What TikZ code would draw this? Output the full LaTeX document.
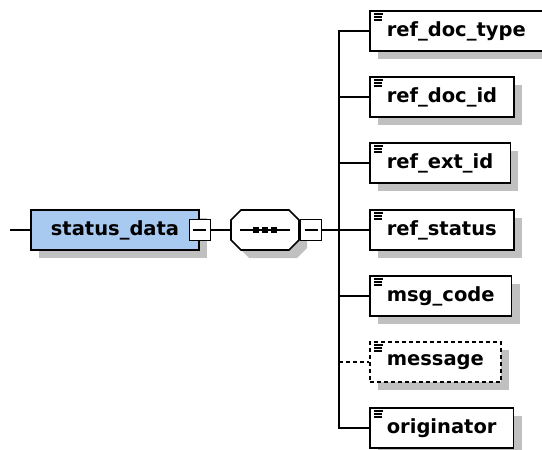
\documentclass[tikz,border=0pt]{standalone}
\usepackage{fontspec}
\setmainfont{DejaVu Sans}
\usetikzlibrary{shadows}
\definecolor{elemblue}{RGB}{168,201,240}
\definecolor{shadowgray}{RGB}{192,192,192}

\begin{document}
\begin{tikzpicture}[x=1bp,y=-1bp,line width=1.6bp,
	font=\fontsize{19.5bp}{22bp}\selectfont\bfseries,
	elem/.style={draw,fill=white,minimum height=40bp,inner xsep=17bp,inner ysep=0pt,
		drop shadow={shadow xshift=8bp,shadow yshift=-8bp,fill=shadowgray,opacity=1}},
	leaf/.style={elem,anchor=west,path picture={
		\draw[solid,line width=1.1bp] ([shift={(4bp,-3bp)}]path picture bounding box.north west) -- ++(9bp,0);
		\draw[solid,line width=1.1bp] ([shift={(4bp,-6bp)}]path picture bounding box.north west) -- ++(8bp,0);
		\draw[solid,line width=1.1bp] ([shift={(4bp,-9bp)}]path picture bounding box.north west) -- ++(8bp,0);}},
	optional/.style={dash pattern=on 4bp off 3bp},
	toggle/.style={draw,fill=white,minimum size=21bp,inner sep=0pt,path picture={
		\draw[line width=1.4bp] ([xshift=4bp]path picture bounding box.west) -- ([xshift=-4bp]path picture bounding box.east);}},
	seqbox/.style={minimum width=68bp,minimum height=40bp,inner sep=0pt}]

	\useasboundingbox (0,0) rectangle (542,450);

	\coordinate (start) at (10,230);
	\node[elem,fill=elemblue,minimum width=168bp,inner xsep=0pt] (statusData) at (115,230) {status\_data};
	\node[toggle] (dataToggle) at (statusData.east) {};

	\fill[shadowgray] (239,228) -- (249,218) -- (297,218) -- (307,228) -- (307,248) -- (297,258) -- (249,258) -- (239,248) -- cycle;
	\draw[fill=white] (231,220) -- (241,210) -- (289,210) -- (299,220) -- (299,240) -- (289,250) -- (241,250) -- (231,240) -- cycle;
	\node[seqbox] (seq) at (265,230) {};
	\draw ([xshift=-25bp]seq.center) -- ([xshift=25bp]seq.center);
	\fill ([xshift=-9bp]seq.center) +(-2.8bp,-2.8bp) rectangle +(2.8bp,2.8bp);
	\fill (seq.center) +(-2.8bp,-2.8bp) rectangle +(2.8bp,2.8bp);
	\fill ([xshift=9bp]seq.center) +(-2.8bp,-2.8bp) rectangle +(2.8bp,2.8bp);
	\node[toggle,anchor=west] (seqToggle) at (seq.east) {};
	\coordinate (bus) at (339,230);

	\node[leaf] (refDocType) at (369,31) {ref\_doc\_type};
	\node[leaf] (refDocId) at (369,97) {ref\_doc\_id};
	\node[leaf] (refExtId) at (369,163) {ref\_ext\_id};
	\node[leaf] (refStatus) at (369,230) {ref\_status};
	\node[leaf] (msgCode) at (369,296) {msg\_code};
	\node[leaf,optional] (message) at (369,362) {message};
	\node[leaf] (originator) at (369,428) {originator};

	\draw (start) -- (statusData);
	\draw (dataToggle) -- (seq);
	\draw (seqToggle) -- (bus);
	\draw (bus) |- (refDocType);
	\draw (bus) |- (refDocId);
	\draw (bus) |- (refExtId);
	\draw (bus) -- (refStatus);
	\draw (bus) |- (msgCode);
	\draw[optional] (bus |- message) -- (message);
	\draw (bus) |- (originator);

\end{tikzpicture}
\end{document}
